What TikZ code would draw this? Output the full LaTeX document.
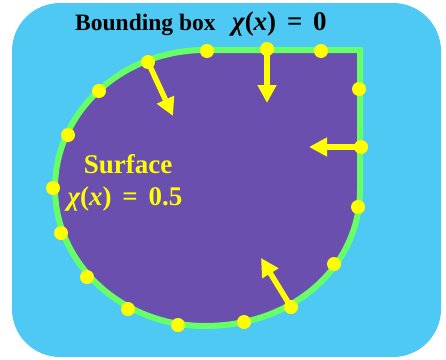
\documentclass[tikz,border=0pt]{standalone}
\usepackage{fontspec}
\setmainfont{Liberation Serif}
\usetikzlibrary{arrows.meta,positioning}
\definecolor{boxblue}{HTML}{4EC9F4}
\definecolor{surfpurple}{HTML}{6A4FAE}
\definecolor{surfgreen}{HTML}{66FF66}
\definecolor{ptyellow}{HTML}{FFFF00}
% chi(x) written with the text font
\newcommand{\chifun}[1]{{\itshape χ}(\textit{x})\hspace{0.4em}=\hspace{0.4em}#1}

\begin{document}
\begin{tikzpicture}[x=1pt,y=1pt,
  sample/.style={circle,fill=ptyellow,inner sep=0pt,minimum size=14pt},
  normal/.style={draw=ptyellow,line width=5.5pt,-{Triangle[width=18pt,length=18pt]}},
  boxlabel/.style={font=\fontsize{23.5}{28}\selectfont\bfseries,anchor=base west,inner sep=0pt},
  surflabel/.style={font=\fontsize{27}{32}\selectfont\bfseries,text=ptyellow,anchor=base,inner sep=0pt},
  surfmath/.style={font=\fontsize{27}{32}\selectfont\bfseries,text=ptyellow,anchor=base,inner sep=0pt}
]
\useasboundingbox (0,0) rectangle (446,-359);
% bounding box
\fill[boxblue,rounded corners=48pt] (12,-3) rectangle (441,-357);
% surface
\draw[surfgreen,line width=6pt,fill=surfpurple,line join=miter]
  (360,-50) -- (205,-50)
  arc[start angle=90,end angle=270,x radius=150,y radius=138]
  .. controls (295,-326) and (360,-265) .. (360,-190) -- cycle;

% sample points on the surface
\foreach \px/\py [count=\i] in {148/62,207/51,267/49,321/51,359/89,361/147,
    358/207,334/264,291/307,244/322,178/325,128/309,87/277,61/233,53/188,68/135,99/91}
  \node[sample] (p\i) at (\px,-\py) {};

% normals
\coordinate (n1) at (173,-116);
\coordinate (n3) at (267,-103);
\coordinate (n6) at (309,-147);
\coordinate (n9) at (261,-258);
\draw[normal] (p1.center) -- (n1);
\draw[normal] (p3.center) -- (n3);
\draw[normal] (p6.center) -- (n6);
\draw[normal] (p9.center) -- (n9);

% labels
\node[boxlabel] (bbtext) at (75,-30) {Bounding box};
\node[boxlabel,font=\fontsize{27}{32}\selectfont\bfseries] (bbchi) at (232,-30) {\chifun{0}};
\node[surflabel] (surftext) at (128,-173) {Surface};
\node[surfmath] (surfchi) at (125,-205) {\chifun{0.5}};
\end{tikzpicture}
\end{document}
